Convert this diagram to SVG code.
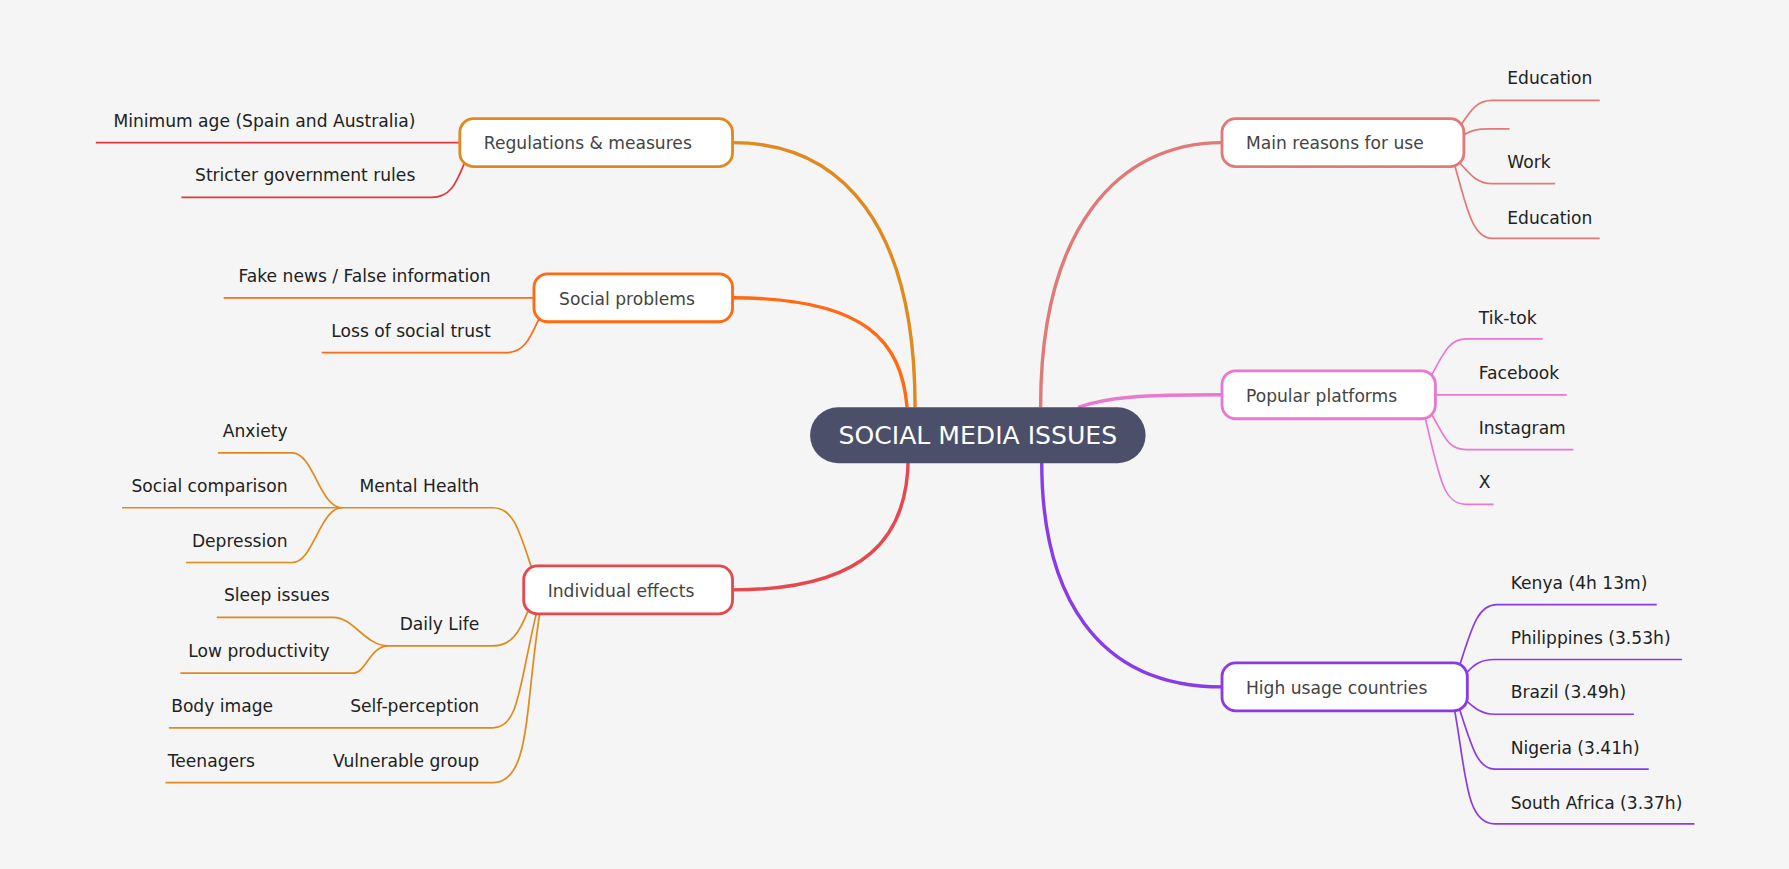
<svg xmlns="http://www.w3.org/2000/svg" width="1789" height="869" viewBox="0 0 1789 869">
<style>
text{font-family:"DejaVu Sans","Liberation Sans",sans-serif;font-size:15px;fill:#222}
.n text{fill:#444}
.r{text-anchor:end}
.box{fill:#fff;stroke-width:2.5}
path{fill:none}
.t{stroke-width:3}
.c{stroke-width:1.5}
</style>
<rect width="1789" height="869" fill="#f5f5f5"/>
<g transform="scale(1.141)">
<g id="connectors">
<path class="t" stroke="#e08a1e" d="M802,357 C802,200 740,125 642,125"/>
<path class="t" stroke="#ff6a13" d="M795,357 C790,300 760,261 642,261"/>
<path class="t" stroke="#e5484d" d="M796,400 C796,470 760,517 642,517"/>
<path class="t" stroke="#e07a78" d="M912,357 C912,200 980,125 1071,125"/>
<path class="t" stroke="#e878d0" d="M945,357 C970,348 1000,346 1071,346"/>
<path class="t" stroke="#8a3be8" d="M913,405 C913,520 960,602 1071,602"/>
<g stroke="#e0383e" class="c">
<path d="M403,125 H84"/>
<path d="M407,143 C400,160 395,173 378,173 H159"/>
</g>
<g stroke="#ff6a13" class="c">
<path d="M468,261 H196"/>
<path d="M473,278 C465,295 460,309 444,309 H282"/>
</g>
<g stroke="#e08a1e" class="c">
<path d="M466,498 C455,465 450,445 432,445 H300"/>
<path d="M300,445 C280,445 275,397 256,397 H191"/>
<path d="M300,445 H107"/>
<path d="M300,445 C280,445 275,493 256,493 H163"/>
<path d="M463,535 C455,555 448,566 432,566 H340"/>
<path d="M340,566 C320,566 310,541 292,541 H190"/>
<path d="M340,566 C325,566 320,590 310,590 H158"/>
<path d="M470,538 C455,600 455,638 432,638 H148"/>
<path d="M473,538 C460,620 465,686 432,686 H145"/>
</g>
<g stroke="#e07a78" class="c">
<path d="M1280,110 C1290,95 1295,88 1308,88 H1402"/>
<path d="M1283,118 C1290,114 1295,113 1305,113 H1323"/>
<path d="M1277,140 C1290,155 1295,161 1308,161 H1363"/>
<path d="M1275,145 C1285,180 1290,209 1308,209 H1402"/>
</g>
<g stroke="#e878d0" class="c">
<path d="M1254,330 C1265,310 1270,297 1285,297 H1352"/>
<path d="M1258,346 H1373"/>
<path d="M1254,362 C1265,380 1268,394 1285,394 H1379"/>
<path d="M1249,366 C1262,420 1265,442 1285,442 H1309"/>
</g>
<g stroke="#8a3be8" class="c">
<path d="M1279,584 C1290,550 1295,530 1312,530 H1452"/>
<path d="M1285,590 C1292,582 1298,578 1310,578 H1474"/>
<path d="M1285,614 C1292,620 1298,626 1310,626 H1432"/>
<path d="M1279,621 C1290,655 1295,674 1310,674 H1445"/>
<path d="M1275,623 C1285,680 1285,722 1310,722 H1485"/>
</g>
</g>
<g id="center"><rect x="710" y="357" width="294" height="49" rx="24.5" fill="#4b4f6a"/><text x="857" y="389" text-anchor="middle" style="font-size:22px;fill:#fff">SOCIAL MEDIA ISSUES</text></g>
<g id="reg" class="n"><rect class="box" stroke="#e08a1e" x="403" y="104" width="239" height="42" rx="12"/><text x="424" y="131">Regulations &amp; measures</text></g>
<g id="soc" class="n"><rect class="box" stroke="#ff6a13" x="468" y="240" width="174" height="42" rx="12"/><text x="490" y="267">Social problems</text></g>
<g id="ind" class="n"><rect class="box" stroke="#e5484d" x="459" y="496" width="183" height="42" rx="12"/><text x="480" y="523">Individual effects</text></g>
<g id="main" class="n"><rect class="box" stroke="#e07a78" x="1071" y="104" width="212" height="42" rx="12"/><text x="1092" y="131">Main reasons for use</text></g>
<g id="pop" class="n"><rect class="box" stroke="#e878d0" x="1071" y="325" width="187" height="42" rx="12"/><text x="1092" y="352">Popular platforms</text></g>
<g id="high" class="n"><rect class="box" stroke="#8a3be8" x="1071" y="581" width="215" height="42" rx="12"/><text x="1092" y="608">High usage countries</text></g>
<g id="labels">
<text class="r" x="364" y="111">Minimum age (Spain and Australia)</text>
<text class="r" x="364" y="159">Stricter government rules</text>
<text class="r" x="430" y="247">Fake news / False information</text>
<text class="r" x="430" y="295">Loss of social trust</text>
<text class="r" x="252" y="383">Anxiety</text>
<text class="r" x="420" y="431">Mental Health</text>
<text class="r" x="252" y="431">Social comparison</text>
<text class="r" x="252" y="479">Depression</text>
<text class="r" x="289" y="527">Sleep issues</text>
<text class="r" x="420" y="552">Daily Life</text>
<text class="r" x="289" y="576">Low productivity</text>
<text x="150" y="624">Body image</text>
<text class="r" x="420" y="624">Self-perception</text>
<text x="147" y="672">Teenagers</text>
<text class="r" x="420" y="672">Vulnerable group</text>
<text x="1321" y="74">Education</text>
<text x="1321" y="147">Work</text>
<text x="1321" y="196">Education</text>
<text x="1296" y="284">Tik-tok</text>
<text x="1296" y="332">Facebook</text>
<text x="1296" y="380">Instagram</text>
<text x="1296" y="428">X</text>
<text x="1324" y="516">Kenya (4h 13m)</text>
<text x="1324" y="564">Philippines (3.53h)</text>
<text x="1324" y="612">Brazil (3.49h)</text>
<text x="1324" y="661">Nigeria (3.41h)</text>
<text x="1324" y="709">South Africa (3.37h)</text>
</g>
</g>
</svg>
